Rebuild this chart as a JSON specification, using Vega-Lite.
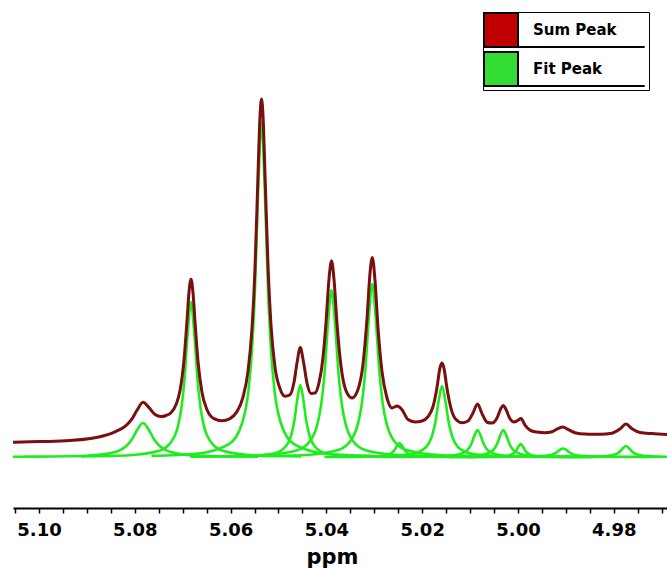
{
  "$schema": "https://vega.github.io/schema/vega-lite/v6.json",
  "width": 654,
  "height": 508,
  "padding": {"left": 13, "top": 0, "right": 0, "bottom": 61},
  "autosize": {"type": "none"},
  "background": "white",
  "config": {"view": {"stroke": null}},
  "datasets": {
    "sum": [
      {"x":5.10543,"y":14.7},{"x":5.09979,"y":15.4},{"x":5.09353,"y":16.5},{"x":5.08726,"y":20.3},{"x":5.08413,"y":25.2},{"x":5.08204,"y":30.7},{"x":5.08058,"y":38.2},{"x":5.07954,"y":46.7},{"x":5.07829,"y":54.8},{"x":5.07703,"y":49.4},{"x":5.07578,"y":42.5},{"x":5.07453,"y":40.4},{"x":5.07348,"y":41.5},{"x":5.07244,"y":44.3},{"x":5.0714,"y":52.2},{"x":5.07056,"y":66.4},{"x":5.06973,"y":96.8},{"x":5.0691,"y":136.4},{"x":5.06868,"y":165},{"x":5.06827,"y":177.8},{"x":5.06785,"y":164.3},{"x":5.06743,"y":135.2},{"x":5.0668,"y":95.4},{"x":5.06597,"y":64.6},{"x":5.06492,"y":47.3},{"x":5.06346,"y":38.3},{"x":5.06179,"y":36.2},{"x":5.06012,"y":38.4},{"x":5.05866,"y":45.4},{"x":5.05741,"y":59.9},{"x":5.05637,"y":85.6},{"x":5.05553,"y":128.9},{"x":5.0549,"y":189.8},{"x":5.05428,"y":282.2},{"x":5.05386,"y":340.6},{"x":5.05355,"y":357.9},{"x":5.05323,"y":341.1},{"x":5.05282,"y":283.1},{"x":5.05219,"y":191.4},{"x":5.05156,"y":131.4},{"x":5.05073,"y":89.9},{"x":5.04968,"y":68.3},{"x":5.04864,"y":60.8},{"x":5.0476,"y":62.3},{"x":5.04676,"y":74.7},{"x":5.04614,"y":93.9},{"x":5.04545,"y":109.5},{"x":5.04478,"y":95},{"x":5.04405,"y":73.9},{"x":5.04321,"y":63.6},{"x":5.04238,"y":63.9},{"x":5.04154,"y":74.3},{"x":5.04071,"y":99.4},{"x":5.04008,"y":134.4},{"x":5.03946,"y":177.8},{"x":5.03893,"y":196.3},{"x":5.03841,"y":177.6},{"x":5.03779,"y":133.7},{"x":5.03695,"y":91},{"x":5.03591,"y":66.4},{"x":5.03465,"y":59.1},{"x":5.0334,"y":67.6},{"x":5.03236,"y":92.9},{"x":5.03152,"y":138.3},{"x":5.0309,"y":183.5},{"x":5.03042,"y":199.6},{"x":5.02985,"y":176.7},{"x":5.02923,"y":129.7},{"x":5.02839,"y":85.4},{"x":5.02735,"y":59},{"x":5.0263,"y":49.1},{"x":5.02526,"y":50.9},{"x":5.02421,"y":47.2},{"x":5.02296,"y":37.4},{"x":5.0215,"y":35},{"x":5.02004,"y":36},{"x":5.01879,"y":40.3},{"x":5.01774,"y":50.5},{"x":5.01691,"y":69.6},{"x":5.01628,"y":89.3},{"x":5.01586,"y":94},{"x":5.01545,"y":88.7},{"x":5.01482,"y":68.4},{"x":5.01399,"y":48.7},{"x":5.01294,"y":37.5},{"x":5.01169,"y":34.3},{"x":5.01044,"y":36},{"x":5.00939,"y":44.1},{"x":5.00845,"y":53},{"x":5.00751,"y":43.4},{"x":5.00647,"y":34.8},{"x":5.00543,"y":34},{"x":5.00438,"y":39.1},{"x":5.00355,"y":48.8},{"x":5.00307,"y":51.6},{"x":5.0025,"y":47.5},{"x":5.00167,"y":38.2},{"x":5.00083,"y":34.9},{"x":5.0,"y":36.7},{"x":4.99937,"y":38.5},{"x":4.99854,"y":31.9},{"x":4.99749,"y":26.9},{"x":4.99603,"y":24.9},{"x":4.99436,"y":24.2},{"x":4.9929,"y":25.2},{"x":4.99165,"y":28.4},{"x":4.9906,"y":30},{"x":4.98956,"y":27.6},{"x":4.9881,"y":24.2},{"x":4.98601,"y":22.9},{"x":4.98288,"y":22.8},{"x":4.98037,"y":23.8},{"x":4.9787,"y":28.1},{"x":4.97745,"y":33},{"x":4.9762,"y":28.2},{"x":4.97453,"y":24.5},{"x":4.97202,"y":23.4},{"x":4.96889,"y":22.6}
    ],
    "fit": [
      {"p":1,"x":5.10543,"y":0.26},{"p":1,"x":5.1023,"y":0.34},{"p":1,"x":5.0903,"y":1.31},{"p":1,"x":5.08549,"y":3.4},{"p":1,"x":5.08309,"y":6.8},{"p":1,"x":5.08189,"y":10.46},{"p":1,"x":5.08069,"y":17},{"p":1,"x":5.07949,"y":27.2},{"p":1,"x":5.07829,"y":34},{"p":1,"x":5.07709,"y":27.2},{"p":1,"x":5.07589,"y":17},{"p":1,"x":5.07469,"y":10.46},{"p":1,"x":5.07349,"y":6.8},{"p":1,"x":5.07109,"y":3.4},{"p":1,"x":5.06629,"y":1.31},{"p":1,"x":5.05428,"y":0.34},
      {"p":2,"x":5.09124,"y":0.54},{"p":2,"x":5.08184,"y":1.53},{"p":2,"x":5.07506,"y":5.96},{"p":2,"x":5.07234,"y":15.5},{"p":2,"x":5.07098,"y":31},{"p":2,"x":5.07031,"y":47.7},{"p":2,"x":5.06963,"y":77.5},{"p":2,"x":5.06895,"y":124},{"p":2,"x":5.06827,"y":155},{"p":2,"x":5.06759,"y":124},{"p":2,"x":5.06691,"y":77.5},{"p":2,"x":5.06623,"y":47.7},{"p":2,"x":5.06556,"y":31},{"p":2,"x":5.0642,"y":15.5},{"p":2,"x":5.06149,"y":5.96},{"p":2,"x":5.0547,"y":1.53},{"p":2,"x":5.04531,"y":0.54},
      {"p":3,"x":5.07652,"y":1.17},{"p":3,"x":5.06712,"y":3.32},{"p":3,"x":5.06034,"y":12.9},{"p":3,"x":5.05762,"y":33.5},{"p":3,"x":5.05626,"y":67},{"p":3,"x":5.05559,"y":103.1},{"p":3,"x":5.05491,"y":167.5},{"p":3,"x":5.05423,"y":268},{"p":3,"x":5.05355,"y":335},{"p":3,"x":5.05287,"y":268},{"p":3,"x":5.05219,"y":167.5},{"p":3,"x":5.05151,"y":103.1},{"p":3,"x":5.05084,"y":67},{"p":3,"x":5.04948,"y":33.5},{"p":3,"x":5.04677,"y":12.9},{"p":3,"x":5.03998,"y":3.32},{"p":3,"x":5.03059,"y":1.17},
      {"p":4,"x":5.06842,"y":0.21},{"p":4,"x":5.05798,"y":0.71},{"p":4,"x":5.05171,"y":2.77},{"p":4,"x":5.04921,"y":7.2},{"p":4,"x":5.04796,"y":14.4},{"p":4,"x":5.04733,"y":22.15},{"p":4,"x":5.0467,"y":36},{"p":4,"x":5.04608,"y":57.6},{"p":4,"x":5.04545,"y":72},{"p":4,"x":5.04482,"y":57.6},{"p":4,"x":5.0442,"y":36},{"p":4,"x":5.04357,"y":22.15},{"p":4,"x":5.04295,"y":14.4},{"p":4,"x":5.04169,"y":7.2},{"p":4,"x":5.03919,"y":2.77},{"p":4,"x":5.03292,"y":0.71},{"p":4,"x":5.02249,"y":0.21},
      {"p":5,"x":5.0619,"y":0.67},{"p":5,"x":5.05354,"y":1.65},{"p":5,"x":5.04624,"y":6.42},{"p":5,"x":5.04331,"y":16.7},{"p":5,"x":5.04185,"y":33.4},{"p":5,"x":5.04112,"y":51.4},{"p":5,"x":5.04039,"y":83.5},{"p":5,"x":5.03966,"y":133.6},{"p":5,"x":5.03893,"y":167},{"p":5,"x":5.0382,"y":133.6},{"p":5,"x":5.03747,"y":83.5},{"p":5,"x":5.03674,"y":51.4},{"p":5,"x":5.03601,"y":33.4},{"p":5,"x":5.03455,"y":16.7},{"p":5,"x":5.03162,"y":6.42},{"p":5,"x":5.02432,"y":1.65},{"p":5,"x":5.01597,"y":0.67},
      {"p":6,"x":5.05339,"y":0.7},{"p":6,"x":5.04503,"y":1.71},{"p":6,"x":5.03773,"y":6.65},{"p":6,"x":5.0348,"y":17.3},{"p":6,"x":5.03334,"y":34.6},{"p":6,"x":5.03261,"y":53.2},{"p":6,"x":5.03188,"y":86.5},{"p":6,"x":5.03115,"y":138.4},{"p":6,"x":5.03042,"y":173},{"p":6,"x":5.02969,"y":138.4},{"p":6,"x":5.02896,"y":86.5},{"p":6,"x":5.02823,"y":53.2},{"p":6,"x":5.0275,"y":34.6},{"p":6,"x":5.02604,"y":17.3},{"p":6,"x":5.02311,"y":6.65},{"p":6,"x":5.01581,"y":1.71},{"p":6,"x":5.00746,"y":0.7},
      {"p":7,"x":5.0404,"y":0.06},{"p":7,"x":5.03518,"y":0.14},{"p":7,"x":5.02996,"y":0.54},{"p":7,"x":5.02787,"y":1.4},{"p":7,"x":5.02683,"y":2.8},{"p":7,"x":5.02631,"y":4.31},{"p":7,"x":5.02578,"y":7},{"p":7,"x":5.02526,"y":11.2},{"p":7,"x":5.02474,"y":14},{"p":7,"x":5.02422,"y":11.2},{"p":7,"x":5.0237,"y":7},{"p":7,"x":5.02317,"y":4.31},{"p":7,"x":5.02265,"y":2.8},{"p":7,"x":5.02161,"y":1.4},{"p":7,"x":5.01952,"y":0.54},{"p":7,"x":5.0143,"y":0.14},{"p":7,"x":5.00908,"y":0.06},
      {"p":8,"x":5.03883,"y":0.25},{"p":8,"x":5.02943,"y":0.7},{"p":8,"x":5.02265,"y":2.73},{"p":8,"x":5.01993,"y":7.1},{"p":8,"x":5.01857,"y":14.2},{"p":8,"x":5.0179,"y":21.85},{"p":8,"x":5.01722,"y":35.5},{"p":8,"x":5.01654,"y":56.8},{"p":8,"x":5.01586,"y":71},{"p":8,"x":5.01518,"y":56.8},{"p":8,"x":5.0145,"y":35.5},{"p":8,"x":5.01382,"y":21.85},{"p":8,"x":5.01315,"y":14.2},{"p":8,"x":5.01179,"y":7.1},{"p":8,"x":5.00908,"y":2.73},{"p":8,"x":5.00229,"y":0.7},{"p":8,"x":4.9929,"y":0.25},
      {"p":9,"x":5.02845,"y":0.1},{"p":9,"x":5.02098,"y":0.27},{"p":9,"x":5.01471,"y":1.04},{"p":9,"x":5.01221,"y":2.7},{"p":9,"x":5.01096,"y":5.4},{"p":9,"x":5.01033,"y":8.31},{"p":9,"x":5.0097,"y":13.5},{"p":9,"x":5.00908,"y":21.6},{"p":9,"x":5.00845,"y":27},{"p":9,"x":5.00782,"y":21.6},{"p":9,"x":5.0072,"y":13.5},{"p":9,"x":5.00657,"y":8.31},{"p":9,"x":5.00595,"y":5.4},{"p":9,"x":5.00469,"y":2.7},{"p":9,"x":5.00219,"y":1.04},{"p":9,"x":4.99592,"y":0.27},{"p":9,"x":4.98845,"y":0.1},
      {"p":10,"x":5.02307,"y":0.1},{"p":10,"x":5.0156,"y":0.27},{"p":10,"x":5.00933,"y":1.04},{"p":10,"x":5.00683,"y":2.7},{"p":10,"x":5.00558,"y":5.4},{"p":10,"x":5.00495,"y":8.31},{"p":10,"x":5.00432,"y":13.5},{"p":10,"x":5.0037,"y":21.6},{"p":10,"x":5.00307,"y":27},{"p":10,"x":5.00244,"y":21.6},{"p":10,"x":5.00182,"y":13.5},{"p":10,"x":5.00119,"y":8.31},{"p":10,"x":5.00057,"y":5.4},{"p":10,"x":4.99931,"y":2.7},{"p":10,"x":4.99681,"y":1.04},{"p":10,"x":4.99054,"y":0.27},{"p":10,"x":4.98307,"y":0.1},
      {"p":11,"x":5.01443,"y":0.05},{"p":11,"x":5.00883,"y":0.13},{"p":11,"x":5.00413,"y":0.5},{"p":11,"x":5.00225,"y":1.3},{"p":11,"x":5.00131,"y":2.6},{"p":11,"x":5.00084,"y":4.0},{"p":11,"x":5.00037,"y":6.5},{"p":11,"x":4.9999,"y":10.4},{"p":11,"x":4.99943,"y":13},{"p":11,"x":4.99896,"y":10.4},{"p":11,"x":4.99849,"y":6.5},{"p":11,"x":4.99802,"y":4.0},{"p":11,"x":4.99755,"y":2.6},{"p":11,"x":4.99661,"y":1.3},{"p":11,"x":4.99473,"y":0.5},{"p":11,"x":4.99004,"y":0.13},{"p":11,"x":4.98443,"y":0.05},
      {"p":12,"x":5.0106,"y":0.04},{"p":12,"x":5.00521,"y":0.08},{"p":12,"x":4.99791,"y":0.33},{"p":12,"x":4.99498,"y":0.85},{"p":12,"x":4.99352,"y":1.7},{"p":12,"x":4.99279,"y":2.62},{"p":12,"x":4.99206,"y":4.25},{"p":12,"x":4.99133,"y":6.8},{"p":12,"x":4.9906,"y":8.5},{"p":12,"x":4.98987,"y":6.8},{"p":12,"x":4.98914,"y":4.25},{"p":12,"x":4.98841,"y":2.62},{"p":12,"x":4.98768,"y":1.7},{"p":12,"x":4.98622,"y":0.85},{"p":12,"x":4.98329,"y":0.33},{"p":12,"x":4.97599,"y":0.08},{"p":12,"x":4.9706,"y":0.04},
      {"p":13,"x":4.99745,"y":0.05},{"p":13,"x":4.98998,"y":0.11},{"p":13,"x":4.98371,"y":0.42},{"p":13,"x":4.98121,"y":1.1},{"p":13,"x":4.97996,"y":2.2},{"p":13,"x":4.97933,"y":3.38},{"p":13,"x":4.9787,"y":5.5},{"p":13,"x":4.97808,"y":8.8},{"p":13,"x":4.97745,"y":11},{"p":13,"x":4.97682,"y":8.8},{"p":13,"x":4.9762,"y":5.5},{"p":13,"x":4.97557,"y":3.38},{"p":13,"x":4.97495,"y":2.2},{"p":13,"x":4.97369,"y":1.1},{"p":13,"x":4.97119,"y":0.42},{"p":13,"x":4.96889,"y":0.23}
    ],
    "keys": [{"s": "Sum Peak"}, {"s": "Fit Peak"}]
  },
  "encoding": {
    "x": {
      "field": "x", "type": "quantitative",
      "scale": {"domain": [4.96889, 5.10543], "reverse": true, "zero": false, "nice": false},
      "axis": {
        "values": [5.105,5.1,5.095,5.09,5.085,5.08,5.075,5.07,5.065,5.06,5.055,5.05,5.045,5.04,5.035,5.03,5.025,5.02,5.015,5.01,5.005,5.0,4.995,4.99,4.985,4.98,4.975,4.97],
        "labelExpr": "(round(datum.value*1000) % 20 == 0) ? format(datum.value, '.2f') : ''",
        "grid": false,
        "domainColor": "black", "domainWidth": 2,
        "tickColor": "black", "tickWidth": 1.5, "tickSize": 5,
        "labelFont": "DejaVu Sans", "labelFontWeight": "bold", "labelFontSize": 18, "labelColor": "black",
        "labelPadding": 8, "labelDx": 2, "labelOverlap": false, "labelFlush": false,
        "title": "ppm", "titleFont": "DejaVu Sans", "titleFontWeight": "bold", "titleFontSize": 21, "titleColor": "black",
        "titleX": 319, "titleY": 55, "titleBaseline": "alphabetic", "titleAlign": "center", "titleAnchor": "start"
      }
    },
    "y": {
      "field": "y", "type": "quantitative",
      "scale": {"domain": [-51, 457], "zero": false, "nice": false},
      "axis": null
    }
  },
  "layer": [
    {
      "data": {"name": "fit"},
      "mark": {"type": "line", "interpolate": "monotone", "strokeWidth": 2.6, "stroke": "#1fec1f"},
      "encoding": {"detail": {"field": "p", "type": "nominal"}}
    },
    {
      "data": {"name": "sum"},
      "mark": {"type": "line", "interpolate": "monotone", "strokeWidth": 3, "stroke": "#7a0f0f"}
    },
    {
      "data": {"name": "keys"},
      "mark": {"type": "square", "filled": true},
      "encoding": {
        "fill": {
          "field": "s", "type": "nominal",
          "scale": {"domain": ["Sum Peak", "Fit Peak"], "range": ["#c00000", "#33dd33"]},
          "legend": {
            "orient": "none", "legendX": 470, "legendY": 12, "title": null,
            "symbolType": "M-1,-1H1V1H-1Z M1,1H8.45",
            "symbolSize": 1156,
            "symbolStrokeColor": "black", "symbolStrokeWidth": 2, "symbolOpacity": 1,
            "labelFont": "DejaVu Sans", "labelFontWeight": "bold", "labelFontSize": 15, "labelColor": "black",
            "labelOffset": 14, "rowPadding": -7, "padding": 0,
            "strokeColor": "black",
            "encode": {
              "symbols": {
                "update": {
                  "stroke": {"value": "black"},
                  "strokeWidth": {"value": 2},
                  "opacity": {"value": 1}
                }
              }
            }
          }
        }
      }
    }
  ]
}
